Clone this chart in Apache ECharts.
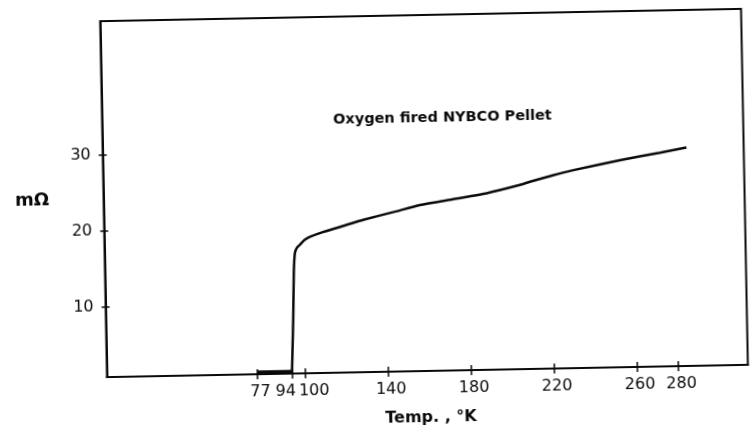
<!DOCTYPE html>
<html>
<head>
<meta charset="utf-8">
<script src="https://cdn.jsdelivr.net/npm/echarts@6/dist/echarts.min.js"></script>
<style>
html,body{margin:0;padding:0;background:#fff;width:750px;height:445px;overflow:hidden;}
#chart{width:750px;height:445px;transform-origin:424px 193px;transform:rotate(-1.1deg);}
</style>
</head>
<body>
<div id="chart"></div>
<script>
// tick labels
const xTicks = [77, 94, 100, 140, 180, 220, 260, 280];
const yTicks = [10, 20, 30];
// flat (superconducting) segment
const flatTemp = [77, 94];
const flatRes = [1.0, 1.0];
// resistance curve (temperature K, resistance mOhm)
const curveTemp = [93.8, 94.9, 95.6, 96.3, 97.3, 98.8, 101, 103.7, 110, 121.7, 129.4, 144.9, 157, 173.1, 189.3, 205.4, 210.3, 221.5, 231.1, 253.8, 273.2, 286];
const curveRes  = [0.9, 8, 14, 16.6, 17.3, 17.7, 18.3, 18.7, 19.3, 20.2, 20.8, 21.8, 22.6, 23.3, 24.0, 25.0, 25.4, 26.2, 26.8, 28.0, 28.9, 29.5];

const titleText = 'Oxygen fired NYBCO Pellet';
const xName = 'Temp. , °K';
const yName = 'mΩ';

const chart = echarts.init(document.getElementById('chart'), null, {renderer: 'canvas'});
const font = '"DejaVu Sans", "Liberation Sans", sans-serif';
const ink = '#0a0a0a';

const xRange = {min: 4.58, max: 313.6};
const yRange = {min: 0.77, max: 47.6};

const option = {
  backgroundColor: '#fff',
  animation: false,
  grid: {left: 103.5, right: 5.5, top: 15, bottom: 74, show: true, borderColor: ink, borderWidth: 2, backgroundColor: 'transparent'},
  xAxis: [
    {
      type: 'value', min: xRange.min, max: xRange.max, position: 'bottom',
      axisLine: {show: true, onZero: false, lineStyle: {color: ink, width: 2}},
      axisTick: {show: true, customValues: xTicks, inside: false, length: 5, lineStyle: {color: ink, width: 1.5}},
      axisLabel: {
        show: true, customValues: xTicks, color: ink, fontFamily: font, fontSize: 16, margin: 10,
        formatter: function (v) {
          if (v === 94) return '{l|94}';
          if (v === 100) return '{r|100}';
          return '{n|' + v + '}';
        },
        rich: {
          l: {fontFamily: font, fontSize: 16, color: ink, padding: [0, 14, 0, 0]},
          r: {fontFamily: font, fontSize: 16, color: ink, padding: [0, 0, 0, 18]},
          n: {fontFamily: font, fontSize: 16, color: ink, padding: [0, 0, 0, 6]}
        }
      },
      splitLine: {show: false}
    },
    {
      type: 'value', min: xRange.min, max: xRange.max, position: 'bottom',
      axisLine: {show: false, onZero: false},
      axisTick: {show: true, customValues: xTicks, inside: true, length: 5, lineStyle: {color: ink, width: 1.5}},
      axisLabel: {show: false},
      splitLine: {show: false}
    }
  ],
  yAxis: [
    {
      type: 'value', min: yRange.min, max: yRange.max, position: 'left',
      axisLine: {show: true, onZero: false, lineStyle: {color: ink, width: 2}},
      axisTick: {show: true, customValues: yTicks, inside: false, length: 4, lineStyle: {color: ink, width: 1.5}},
      axisLabel: {show: true, customValues: yTicks, color: ink, fontFamily: font, fontSize: 16, margin: 12},
      splitLine: {show: false}
    },
    {
      type: 'value', min: yRange.min, max: yRange.max, position: 'left',
      axisLine: {show: false, onZero: false},
      axisTick: {show: true, customValues: yTicks, inside: true, length: 4, lineStyle: {color: ink, width: 1.5}},
      axisLabel: {show: false},
      splitLine: {show: false}
    }
  ],
  graphic: [
    {type: 'text', left: 334.5, top: 111, style: {text: titleText, fill: ink, font: 'bold 14.5px ' + font}},
    {type: 'text', left: 381, top: 410, style: {text: xName, fill: ink, font: 'bold 16px ' + font}},
    {type: 'text', left: 15, top: 184, style: {text: yName, fill: ink, font: 'bold 18px ' + font}}
  ],
  series: [
    {
      type: 'line', xAxisIndex: 0, yAxisIndex: 0, showSymbol: false, silent: true,
      data: flatTemp.map((t, i) => [t, flatRes[i]]),
      lineStyle: {color: ink, width: 4}
    },
    {
      type: 'line', xAxisIndex: 0, yAxisIndex: 0, showSymbol: false, silent: true, smooth: 0.2,
      data: curveTemp.map((t, i) => [t, curveRes[i]]),
      lineStyle: {color: ink, width: 2.5}
    }
  ]
};
chart.setOption(option);
</script>
</body>
</html>
